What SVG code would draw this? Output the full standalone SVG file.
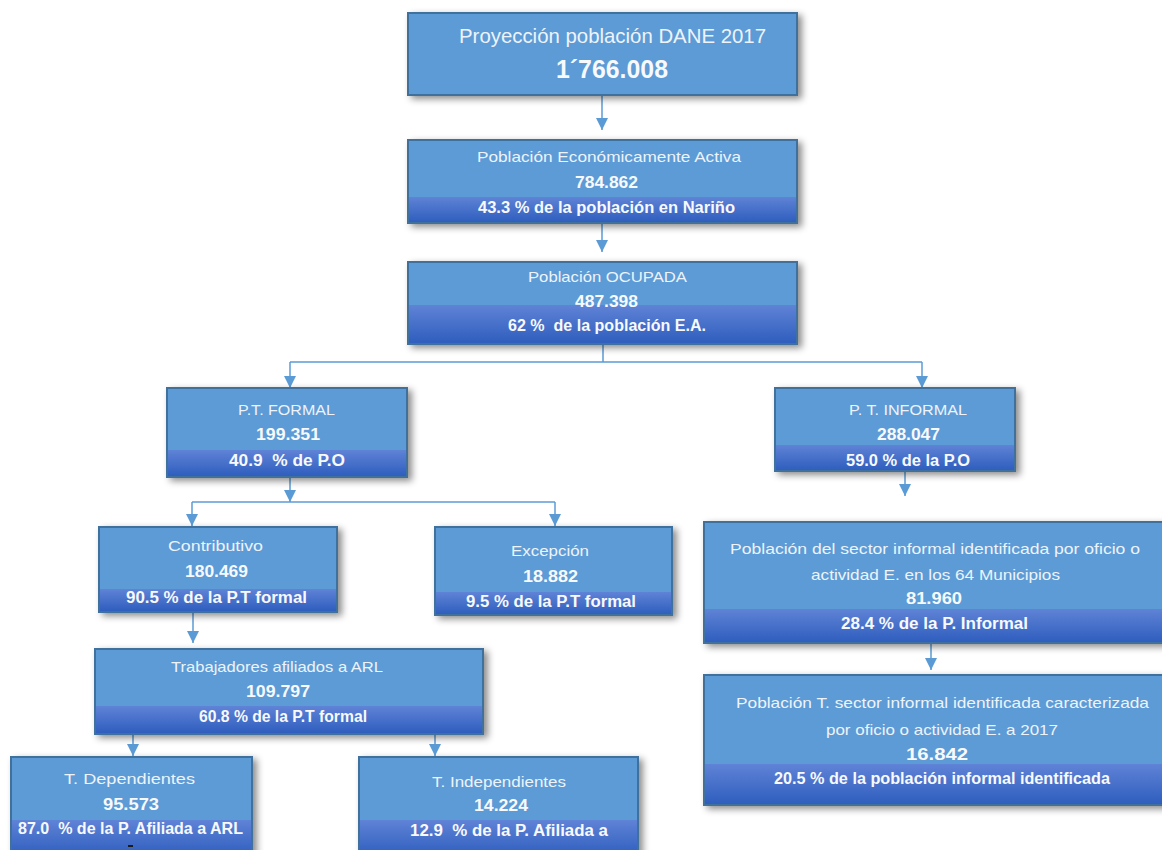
<svg xmlns="http://www.w3.org/2000/svg" width="1162" height="850" viewBox="0 0 1162 850">
<defs>
<linearGradient id="band" x1="0" y1="0" x2="0" y2="1">
<stop offset="0" stop-color="#5F83D6"/>
<stop offset="1" stop-color="#2F5EBE"/>
</linearGradient>
<filter id="sh" x="-10%" y="-15%" width="130%" height="145%">
<feDropShadow dx="4" dy="3" stdDeviation="3.5" flood-color="#000" flood-opacity="0.45"/>
</filter>
<marker id="ah" viewBox="0 0 12 12" refX="12" refY="6" markerWidth="12" markerHeight="13" markerUnits="userSpaceOnUse" orient="auto">
<path d="M0,0 L12,6 L0,12 Z" fill="#5B9BD5"/>
</marker>
<style>
.box{fill:#5B9BD5;stroke:#41719C;stroke-width:2}
.band{fill:url(#band)}
.t{font-family:"Liberation Sans",Arial,sans-serif;font-size:15px;fill:#EEF3FA}
.b{font-family:"Liberation Sans",Arial,sans-serif;font-size:16px;font-weight:bold;fill:#F7F9FD}
.c{fill:none;stroke:#5B9BD5;stroke-width:1.5}
</style>
</defs>
<rect width="1162" height="850" fill="#fff"/>

<g id="connectors">
<path class="c" d="M602,95 V130" marker-end="url(#ah)"/>
<path class="c" d="M602,223 V252" marker-end="url(#ah)"/>
<path class="c" d="M603,344 V362 M290,362 H922"/>
<path class="c" d="M290,362 V388" marker-end="url(#ah)"/>
<path class="c" d="M922,362 V388" marker-end="url(#ah)"/>
<path class="c" d="M290,477 V502" marker-end="url(#ah)"/>
<path class="c" d="M192,502 H555"/>
<path class="c" d="M192,502 V526" marker-end="url(#ah)"/>
<path class="c" d="M555,502 V526" marker-end="url(#ah)"/>
<path class="c" d="M905,471 V496" marker-end="url(#ah)"/>
<path class="c" d="M193,612 V643" marker-end="url(#ah)"/>
<path class="c" d="M931,643 V670" marker-end="url(#ah)"/>
<path class="c" d="M133,734 V756" marker-end="url(#ah)"/>
<path class="c" d="M435,734 V756" marker-end="url(#ah)"/>
</g>

<g id="n-dane">
<rect class="box" x="408" y="13" width="389" height="82" filter="url(#sh)"/>
<text class="t" x="459" y="43" textLength="307" lengthAdjust="spacingAndGlyphs" style="font-size:21px">Proyección población DANE 2017</text>
<text class="b" x="556" y="78" textLength="112" lengthAdjust="spacingAndGlyphs" style="font-size:26px">1´766.008</text>
</g>

<g id="n-pea">
<rect class="box" x="408" y="140" width="389" height="83" filter="url(#sh)"/>
<rect class="band" x="409" y="197" width="387" height="25"/>
<text class="t" x="477" y="162" textLength="264" lengthAdjust="spacingAndGlyphs">Población Económicamente Activa</text>
<text class="b" x="575" y="188" textLength="63" lengthAdjust="spacingAndGlyphs">784.862</text>
<text class="b" x="478" y="213" textLength="257" lengthAdjust="spacingAndGlyphs">43.3 % de la población en Nariño</text>
</g>

<g id="n-ocupada">
<rect class="box" x="408" y="262" width="389" height="82" filter="url(#sh)"/>
<rect class="band" x="409" y="305" width="387" height="38"/>
<text class="t" x="528" y="282" textLength="159" lengthAdjust="spacingAndGlyphs">Población OCUPADA</text>
<text class="b" x="575" y="307" textLength="63" lengthAdjust="spacingAndGlyphs">487.398</text>
<text class="b" x="508" y="331" textLength="198" lengthAdjust="spacingAndGlyphs" xml:space="preserve">62 %  de la población E.A.</text>
</g>

<g id="n-formal">
<rect class="box" x="167" y="388" width="240" height="89" filter="url(#sh)"/>
<rect class="band" x="168" y="450" width="238" height="26"/>
<text class="t" x="238" y="415" textLength="97" lengthAdjust="spacingAndGlyphs">P.T. FORMAL</text>
<text class="b" x="256" y="440" textLength="64" lengthAdjust="spacingAndGlyphs">199.351</text>
<text class="b" x="229" y="466" textLength="116" lengthAdjust="spacingAndGlyphs" xml:space="preserve">40.9  % de P.O</text>
</g>

<g id="n-informal">
<rect class="box" x="775" y="388" width="240" height="83" filter="url(#sh)"/>
<rect class="band" x="776" y="445" width="238" height="25"/>
<text class="t" x="849" y="415" textLength="118" lengthAdjust="spacingAndGlyphs">P. T. INFORMAL</text>
<text class="b" x="877" y="440" textLength="63" lengthAdjust="spacingAndGlyphs">288.047</text>
<text class="b" x="846" y="466" textLength="124" lengthAdjust="spacingAndGlyphs">59.0 % de la P.O</text>
</g>

<g id="n-contributivo">
<rect class="box" x="99" y="527" width="238" height="85" filter="url(#sh)"/>
<rect class="band" x="100" y="589" width="236" height="22"/>
<text class="t" x="168" y="551" textLength="95" lengthAdjust="spacingAndGlyphs">Contributivo</text>
<text class="b" x="185" y="577" textLength="63" lengthAdjust="spacingAndGlyphs">180.469</text>
<text class="b" x="126" y="603" textLength="181" lengthAdjust="spacingAndGlyphs">90.5 % de la P.T formal</text>
</g>

<g id="n-excepcion">
<rect class="box" x="435" y="527" width="237" height="88" filter="url(#sh)"/>
<rect class="band" x="436" y="592" width="235" height="22"/>
<text class="t" x="511" y="556" textLength="78" lengthAdjust="spacingAndGlyphs">Excepción</text>
<text class="b" x="523" y="582" textLength="55" lengthAdjust="spacingAndGlyphs">18.882</text>
<text class="b" x="466" y="607" textLength="170" lengthAdjust="spacingAndGlyphs">9.5 % de la P.T formal</text>
</g>

<g id="n-informal-id">
<rect class="box" x="704" y="522" width="470" height="121" filter="url(#sh)"/>
<rect class="band" x="705" y="609" width="468" height="33"/>
<text class="t" x="730" y="554" textLength="410" lengthAdjust="spacingAndGlyphs">Población del sector informal identificada por oficio o</text>
<text class="t" x="811" y="580" textLength="249" lengthAdjust="spacingAndGlyphs">actividad E. en los 64 Municipios</text>
<text class="b" x="906" y="604" textLength="56" lengthAdjust="spacingAndGlyphs">81.960</text>
<text class="b" x="841" y="629" textLength="187" lengthAdjust="spacingAndGlyphs">28.4 % de la P. Informal</text>
</g>

<g id="n-caracterizada">
<rect class="box" x="704" y="675" width="470" height="130" filter="url(#sh)"/>
<rect class="band" x="705" y="764" width="468" height="40"/>
<text class="t" x="736" y="708" textLength="413" lengthAdjust="spacingAndGlyphs">Población T. sector informal identificada caracterizada</text>
<text class="t" x="826" y="735" textLength="232" lengthAdjust="spacingAndGlyphs">por oficio o actividad E. a 2017</text>
<text class="b" x="906" y="760" textLength="62" lengthAdjust="spacingAndGlyphs">16.842</text>
<text class="b" x="774" y="784" textLength="336" lengthAdjust="spacingAndGlyphs">20.5 % de la población informal identificada</text>
</g>

<g id="n-arl">
<rect class="box" x="95" y="649" width="388" height="85" filter="url(#sh)"/>
<rect class="band" x="96" y="706" width="386" height="27"/>
<text class="t" x="171" y="672" textLength="212" lengthAdjust="spacingAndGlyphs">Trabajadores afiliados a ARL</text>
<text class="b" x="246" y="697" textLength="64" lengthAdjust="spacingAndGlyphs">109.797</text>
<text class="b" x="199" y="722" textLength="168" lengthAdjust="spacingAndGlyphs">60.8 % de la P.T formal</text>
</g>

<g id="n-dependientes">
<rect class="box" x="11" y="757" width="241" height="100" filter="url(#sh)"/>
<rect class="band" x="12" y="820" width="239" height="36"/>
<text class="t" x="64" y="784" textLength="131" lengthAdjust="spacingAndGlyphs">T. Dependientes</text>
<text class="b" x="103" y="810" textLength="56" lengthAdjust="spacingAndGlyphs">95.573</text>
<text class="b" x="18" y="834" textLength="225" lengthAdjust="spacingAndGlyphs" xml:space="preserve">87.0  % de la P. Afiliada a ARL</text>
<rect x="128" y="845" width="5" height="2" fill="#1a1a1a"/>
</g>

<g id="n-independientes">
<rect class="box" x="359" y="757" width="279" height="100" filter="url(#sh)"/>
<rect class="band" x="360" y="820" width="277" height="36"/>
<text class="t" x="432" y="787" textLength="134" lengthAdjust="spacingAndGlyphs">T. Independientes</text>
<text class="b" x="474" y="811" textLength="54" lengthAdjust="spacingAndGlyphs">14.224</text>
<text class="b" x="410" y="836" textLength="198" lengthAdjust="spacingAndGlyphs" xml:space="preserve">12.9  % de la P. Afiliada a</text>
</g>
</svg>
